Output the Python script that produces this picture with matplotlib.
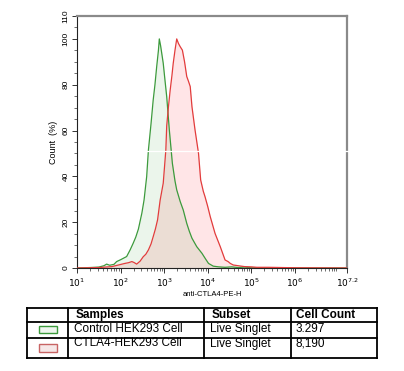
import numpy as np
import matplotlib
matplotlib.use("Agg")
import matplotlib.pyplot as plt
from matplotlib.patches import Rectangle
from matplotlib.ticker import FixedLocator, NullFormatter

plt.rcParams["font.family"] = ["Liberation Sans", "DejaVu Sans"]

# histogram outlines, x as log10(intensity), y as count (%)
ctrl_logx = [1.0, 1.3, 1.5, 1.62, 1.68, 1.75, 1.85, 1.91, 2.0, 2.06, 2.14, 2.22, 2.29,
             2.35, 2.41, 2.49, 2.54, 2.60, 2.64, 2.70, 2.75, 2.79, 2.83, 2.87, 2.89,
             2.92, 2.98, 3.02, 3.06, 3.12, 3.19, 3.25, 3.29, 3.37, 3.44, 3.52, 3.58,
             3.64, 3.75, 3.87, 3.95, 4.02, 4.13, 4.25, 4.4, 4.55, 4.7, 4.85, 5.0, 7.2]
ctrl_y = [0.0, 0.2, 0.4, 1.0, 1.7, 1.2, 1.6, 2.8, 3.6, 4.2, 5.0, 7.9, 10.8,
          13.5, 17.0, 24.0, 29.7, 39.9, 51.5, 63.0, 73.4, 80.0, 87.9, 95.0, 100.0,
          97.0, 89.4, 82.0, 74.8, 60.3, 45.7, 38.0, 34.1, 29.0, 25.3, 19.5, 16.0,
          13.0, 9.3, 6.4, 4.0, 2.0, 0.8, 0.5, 0.3, 0.5, 0.2, 0.4, 0.1, 0.0]

ctla4_logx = [1.0, 1.5, 1.8, 1.95, 2.1, 2.18, 2.26, 2.31, 2.37, 2.45, 2.52, 2.58, 2.64,
              2.70, 2.75, 2.80, 2.85, 2.91, 2.98, 3.04, 3.06, 3.10, 3.14, 3.18, 3.21,
              3.25, 3.29, 3.33, 3.37, 3.42, 3.47, 3.52, 3.56, 3.60, 3.64, 3.71, 3.79,
              3.84, 3.90, 3.94, 4.00, 4.06, 4.17, 4.29, 4.40, 4.47, 4.52, 4.59, 4.70,
              4.85, 5.0, 5.13, 5.4, 5.7, 6.0, 7.2]
ctla4_y = [0.0, 0.2, 0.6, 1.3, 2.0, 2.3, 2.8, 2.4, 1.7, 3.0, 4.9, 6.0, 7.9,
           10.5, 13.7, 17.0, 21.0, 29.7, 37.0, 51.5, 62.0, 70.4, 77.7, 84.0, 89.4,
           95.0, 100.0, 98.0, 96.6, 95.1, 90.0, 83.6, 81.5, 79.2, 70.4, 60.3, 50.1,
           38.4, 33.5, 31.1, 27.0, 22.4, 15.1, 9.3, 3.5, 2.8, 2.0, 1.3, 1.0,
           0.6, 0.5, 0.3, 0.3, 0.2, 0.1, 0.0]

samples = ["Control HEK293 Cell", "CTLA4-HEK293 Cell"]
subsets = ["Live Singlet", "Live Singlet"]
cell_counts = ["3.297", "8,190"]
line_colors = ["#3c9a3c", "#e23c3c"]
fill_colors = [(0.0, 0.5, 0.0, 0.08), (1.0, 0.0, 0.1, 0.10)]
box_fill = ["#eef6ee", "#f6e8e8"]

x_decades = [1, 2, 3, 4, 5, 6, 7.2]
x_ticklabels = [r"$10^{1}$", r"$10^{2}$", r"$10^{3}$", r"$10^{4}$", r"$10^{5}$",
                r"$10^{6}$", r"$10^{7.2}$"]
y_ticks = [0, 20, 40, 60, 80, 100, 110]

W, H = 404, 371
fig = plt.figure(figsize=(W / 100, H / 100), dpi=100)
ax = fig.add_axes([77 / W, 1 - 268 / H, 270 / W, 252 / H])

# red first, green over it -> beige overlap
series = [(ctla4_logx, ctla4_y, 1), (ctrl_logx, ctrl_y, 0)]
for lx, yy, i in series:
    xv = 10 ** np.array(lx)
    ax.fill_between(xv, yy, 0, color=fill_colors[i], lw=0, zorder=1)
    ax.plot(xv, yy, color=line_colors[i], lw=0.9, zorder=2 + i)

ax.set_xscale("log")
ax.set_xlim(10 ** 1, 10 ** 7.2)
ax.set_ylim(0, 110)
ax.xaxis.set_major_locator(FixedLocator([10 ** d for d in x_decades]))
ax.set_xticklabels(x_ticklabels, fontsize=6.5)
minors = [m * 10 ** d for d in range(1, 8) for m in range(2, 10) if m * 10 ** d < 10 ** 7.2]
ax.xaxis.set_minor_locator(FixedLocator(minors))
ax.xaxis.set_minor_formatter(NullFormatter())
ax.set_yticks(y_ticks)
ax.set_yticklabels([str(t) for t in y_ticks], fontsize=6, rotation=90, va="center")
ax.set_yticks(np.arange(0, 111, 5), minor=True)
ax.tick_params(axis="both", which="major", direction="out", length=3.5, width=0.7,
               pad=2, color="#333")
ax.tick_params(axis="both", which="minor", direction="out", length=2, width=0.5,
               color="#333")
ax.tick_params(axis="x", which="major", pad=3)

for s in ["top", "right"]:
    ax.spines[s].set_color("#8a8a8a")
    ax.spines[s].set_linewidth(1.6)
for s in ["left", "bottom"]:
    ax.spines[s].set_color("#222")
    ax.spines[s].set_linewidth(0.8)

ax.set_ylabel("Count  (%)", fontsize=6.5, labelpad=3)
ax.set_xlabel("anti-CTLA4-PE-H", fontsize=5.5, labelpad=1)

# overlay in pixel coordinates for the table below
ov = fig.add_axes([0, 0, 1, 1])
ov.set_xlim(0, W); ov.set_ylim(H, 0); ov.axis("off")
ov.patch.set_alpha(0)

# white streak across the plot
ov.plot([85, W], [150.5, 150.5], color="white", lw=0.9, zorder=5)

cols = [27, 68, 204, 291, 377]
rows = [308, 322, 338, 358]
lw = 1.3
for r in rows:
    ov.plot([cols[0], cols[-1]], [r, r], color="black", lw=lw)
for c in cols:
    ov.plot([c, c], [rows[0], rows[3]], color="black", lw=lw)

fs = 8.5
ov.text(76, 315, "Samples", fontsize=fs, fontweight="bold", va="center")
ov.text(212, 315, "Subset", fontsize=fs, fontweight="bold", va="center")
ov.text(296, 315, "Cell Count", fontsize=fs, fontweight="bold", va="center")
row_y = [329, 343.5]
for i in range(2):
    ov.text(74, row_y[i], samples[i], fontsize=fs, va="center")
    ov.text(210, row_y[i], subsets[i], fontsize=fs, va="center")
    ov.text(296, row_y[i], cell_counts[i], fontsize=fs, va="center")
ov.add_patch(Rectangle((38.5, 326), 18, 7, fc=box_fill[0], ec=line_colors[0], lw=1.0))
ov.add_patch(Rectangle((38.5, 343.5), 18, 8, fc=box_fill[1], ec="#c86464", lw=1.0))

fig.savefig("out.png", dpi=100)
